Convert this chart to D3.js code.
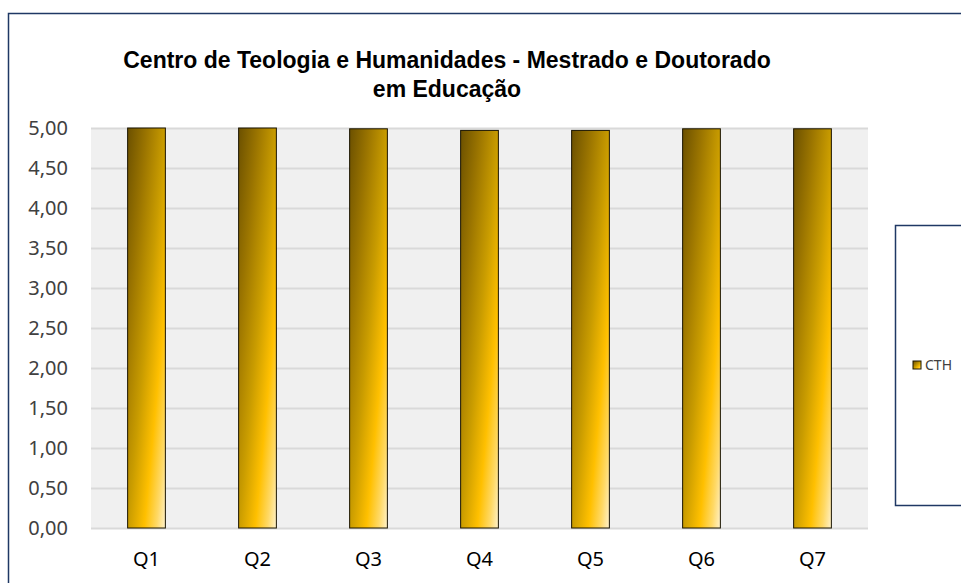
<!DOCTYPE html>
<html>
<head>
<meta charset="utf-8">
<script src="https://cdn.jsdelivr.net/npm/d3@7"></script>
<style>
  body { margin: 0; background: #fff; }
  svg { display: block; }
</style>
</head>
<body>
<svg width="961" height="583"></svg>
<script>
// values
var categories = ["Q1", "Q2", "Q3", "Q4", "Q5", "Q6", "Q7"];
var values = [5.00, 5.00, 4.99, 4.97, 4.97, 4.99, 4.99];
var yTicks = [0, 0.5, 1, 1.5, 2, 2.5, 3, 3.5, 4, 4.5, 5];
var seriesName = "CTH";
var titleLines = ["Centro de Teologia e Humanidades - Mestrado e Doutorado", "em Educação"];

var svg = d3.select("svg"),
    width = +svg.attr("width"),
    height = +svg.attr("height");

var plot = {left: 91, right: 868, top: 128, bottom: 528};

// outer chart frame (runs off the right / bottom edge)
svg.append("rect")
    .attr("x", 8.5).attr("y", 13.5)
    .attr("width", 1000).attr("height", 1000)
    .attr("fill", "#fff")
    .attr("stroke", "#1f3864")
    .attr("stroke-width", 1.5);

var defs = svg.append("defs");
var grad = defs.append("linearGradient")
    .attr("id", "barGrad")
    .attr("x1", 0).attr("y1", 0).attr("x2", 1).attr("y2", 1);
[[0, "#6b5000"], [0.25, "#9a7400"], [0.5, "#c99c00"], [0.72, "#ffc000"], [0.88, "#ffd966"], [1, "#fff2cc"]]
  .forEach(function(s) {
    grad.append("stop").attr("offset", s[0]).attr("stop-color", s[1]);
  });

var x = d3.scaleBand()
    .domain(categories)
    .range([plot.left, plot.right])
    .paddingInner(0.66)
    .paddingOuter(0.33);

var y = d3.scaleLinear()
    .domain([0, 5])
    .range([plot.bottom, plot.top]);

// plot background
svg.append("rect")
    .attr("x", plot.left).attr("y", plot.top)
    .attr("width", plot.right - plot.left)
    .attr("height", plot.bottom - plot.top)
    .attr("fill", "#f0f0f0");

// gridlines
svg.append("g")
  .selectAll("line")
  .data(yTicks)
  .enter().append("line")
    .attr("x1", plot.left).attr("x2", plot.right)
    .attr("y1", function(d) { return Math.round(y(d)) + 0.5; })
    .attr("y2", function(d) { return Math.round(y(d)) + 0.5; })
    .attr("stroke", "#d9d9d9")
    .attr("stroke-width", 2);

// y axis labels
var fmt = function(d) { return d3.format(".2f")(d).replace(".", ","); };
var yAxis = svg.append("g")
    .attr("transform", "translate(" + (plot.left - 23) + ",0)")
    .call(d3.axisLeft(y).tickValues(yTicks).tickFormat(fmt).tickSize(0).tickPadding(0));
yAxis.select(".domain").remove();
yAxis.selectAll("text")
    .attr("fill", "#404040")
    .style("font-family", "'Noto Sans', 'Open Sans', sans-serif")
    .style("font-size", "20px");

// x axis labels
var xAxis = svg.append("g")
    .attr("transform", "translate(0," + (plot.bottom + 24) + ")")
    .call(d3.axisBottom(x).tickSize(0).tickPadding(0));
xAxis.select(".domain").remove();
xAxis.selectAll("text")
    .attr("fill", "#000")
    .style("font-family", "'Noto Sans', 'Open Sans', sans-serif")
    .style("font-size", "20px");

// bars
svg.append("g")
  .selectAll("rect")
  .data(values)
  .enter().append("rect")
    .attr("x", function(d, i) { return x(categories[i]); })
    .attr("y", function(d) { return y(d); })
    .attr("width", x.bandwidth())
    .attr("height", function(d) { return y(0) - y(d); })
    .attr("fill", "url(#barGrad)")
    .attr("stroke", "#1a1400")
    .attr("stroke-width", 1);

// title
var title = svg.append("text")
    .attr("text-anchor", "middle")
    .style("font-family", "'Liberation Sans', Arial, sans-serif")
    .style("font-weight", "bold")
    .style("font-size", "23px")
    .attr("fill", "#000");
titleLines.forEach(function(t, i) {
  title.append("tspan")
      .attr("x", 447)
      .attr("y", 68 + i * 29)
      .text(t);
});

// legend
svg.append("rect")
    .attr("x", 895.5).attr("y", 225.5)
    .attr("width", 200).attr("height", 280)
    .attr("fill", "#fff")
    .attr("stroke", "#1f3864")
    .attr("stroke-width", 1.5);
var legend = svg.append("g").attr("transform", "translate(913,361)");
legend.append("rect")
    .attr("width", 8).attr("height", 8)
    .attr("fill", "url(#barGrad)")
    .attr("stroke", "#1a1400");
legend.append("text")
    .attr("x", 12).attr("y", 9)
    .attr("fill", "#404040")
    .style("font-family", "'Noto Sans', 'Open Sans', sans-serif")
    .style("font-size", "14px")
    .text(seriesName);
</script>
</body>
</html>
